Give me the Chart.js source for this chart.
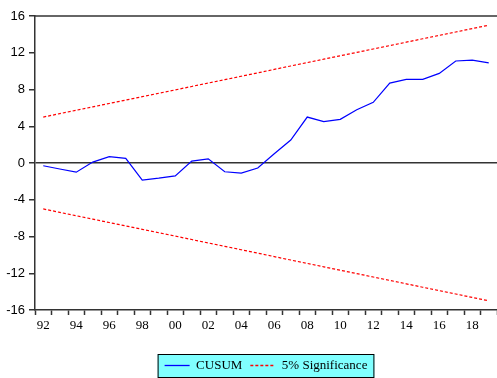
<!DOCTYPE html>
<html>
<head>
<meta charset="utf-8">
<script src="https://cdn.jsdelivr.net/npm/chart.js@4.4.1/dist/chart.umd.min.js"></script>
<style>
  html, body { margin: 0; padding: 0; background: #fff; }
  #wrap { width: 497px; height: 378px; position: relative; }
</style>
</head>
<body>
<div id="wrap"><canvas id="myChart"></canvas></div>
<script>
// CUSUM test, yearly 1992 - 2019
const years = ['92','93','94','95','96','97','98','99','00','01','02','03','04','05',
               '06','07','08','09','10','11','12','13','14','15','16','17','18','19'];

const cusum = [-0.3, -0.65, -1.0, 0.1, 0.7, 0.5, -1.85, -1.65, -1.4, 0.2, 0.45, -0.95, -1.1, -0.55,
               1.0, 2.5, 5.0, 4.5, 4.75, 5.8, 6.6, 8.7, 9.1, 9.1, 9.75, 11.1, 11.2, 10.9];

const upper = [5.00, 5.37, 5.74, 6.11, 6.48, 6.85, 7.22, 7.59, 7.96, 8.33, 8.70, 9.07, 9.44, 9.81,
               10.19, 10.56, 10.93, 11.30, 11.67, 12.04, 12.41, 12.78, 13.15, 13.52, 13.89, 14.26, 14.63, 15.00];

const lower = [-5.00, -5.37, -5.74, -6.11, -6.48, -6.85, -7.22, -7.59, -7.96, -8.33, -8.70, -9.07, -9.44, -9.81,
               -10.19, -10.56, -10.93, -11.30, -11.67, -12.04, -12.41, -12.78, -13.15, -13.52, -13.89, -14.26, -14.63, -15.00];

const yTicks = [16, 12, 8, 4, 0, -4, -8, -12, -16];

// top frame line + cyan legend box
const framePlugin = {
    id: 'frame',
    beforeDraw(chart) {
        const c = chart.ctx;
        const lg = chart.legend;
        if (lg && lg.legendHitBoxes.length) {
            const hb = lg.legendHitBoxes;
            const x1 = hb[0].left - 7;
            const x2 = hb[hb.length - 1].left + hb[hb.length - 1].width + 7;
            const y1 = hb[0].top - 5;
            const y2 = hb[0].top + hb[0].height + 6;
            c.save();
            c.fillStyle = '#80ffff';
            c.fillRect(x1, y1, x2 - x1, y2 - y1);
            c.strokeStyle = '#000';
            c.lineWidth = 1;
            c.strokeRect(x1 + 0.5, y1 + 0.5, x2 - x1 - 1, y2 - y1 - 1);
            c.restore();
        }
    },
    afterDraw(chart) {
        const a = chart.chartArea;
        const c = chart.ctx;
        c.save();
        c.strokeStyle = '#333';
        c.lineWidth = 1.5;
        c.beginPath();
        c.moveTo(a.left, a.top);
        c.lineTo(a.right, a.top);
        c.stroke();
        c.restore();
    }
};

var ctx = document.getElementById('myChart').getContext('2d');

var mychart = new Chart(ctx, {
    type: 'line',
    data: {
        labels: years,
        datasets: [{
            label: 'CUSUM',
            data: cusum,
            borderColor: '#0000ff',
            backgroundColor: '#0000ff',
            borderWidth: 1.2,
            pointRadius: 0,
            pointStyle: 'line',
            tension: 0
        }, {
            label: '5% Significance',
            data: upper,
            borderColor: '#ff0000',
            backgroundColor: '#ff0000',
            borderWidth: 1.2,
            borderDash: [3, 2],
            pointRadius: 0,
            pointStyle: 'line',
            tension: 0
        }, {
            label: 'lower',
            data: lower,
            borderColor: '#ff0000',
            borderWidth: 1.2,
            borderDash: [3, 2],
            pointRadius: 0,
            tension: 0
        }]
    },
    options: {
        responsive: true,
        maintainAspectRatio: false,
        animation: false,
        layout: {
            padding: { top: 16, right: 0, left: 0, bottom: -4 }
        },
        plugins: {
            tooltip: { enabled: false },
            legend: {
                position: 'bottom',
                fullSize: false,
                labels: {
                    filter: (item) => item.datasetIndex < 2,
                    generateLabels: function(chart) {
                        const items = Chart.defaults.plugins.legend.labels.generateLabels(chart);
                        items.forEach((it) => {
                            const ds = chart.data.datasets[it.datasetIndex];
                            it.lineDash = ds.borderDash || [];
                            it.lineWidth = 1.3;
                            it.strokeStyle = ds.borderColor;
                        });
                        return items;
                    },
                    usePointStyle: true,
                    pointStyleWidth: 25,
                    boxWidth: 25,
                    padding: 8,
                    color: '#000',
                    font: { family: 'Liberation Serif', size: 13 }
                }
            }
        },
        scales: {
            x: {
                offset: true,
                afterFit: (s) => { s.height = 41; },
                grid: {
                    offset: true,
                    drawOnChartArea: false,
                    tickLength: 5,
                    tickColor: '#333',
                    tickWidth: 1.5
                },
                border: { color: '#333', width: 1.5 },
                ticks: {
                    autoSkip: false,
                    maxRotation: 0,
                    padding: 3,
                    color: '#000',
                    font: { family: 'Liberation Serif', size: 13 },
                    callback: function(v, i) { return i % 2 === 0 ? years[i] : ''; }
                }
            },
            y: {
                min: -16,
                max: 16,
                afterFit: (s) => { s.width = 35; },
                afterBuildTicks: (s) => { s.ticks = yTicks.map(v => ({ value: v })); },
                grid: {
                    color: (c) => (c.tick && c.tick.value === 0) ? '#333' : 'rgba(0,0,0,0)',
                    lineWidth: 1.5,
                    tickLength: 6,
                    tickColor: '#333',
                    tickWidth: 1.5
                },
                border: { color: '#333', width: 1.5 },
                ticks: {
                    padding: 4,
                    color: '#000',
                    font: { family: 'Liberation Sans', size: 13 }
                }
            }
        }
    },
    plugins: [framePlugin]
});
</script>
</body>
</html>
